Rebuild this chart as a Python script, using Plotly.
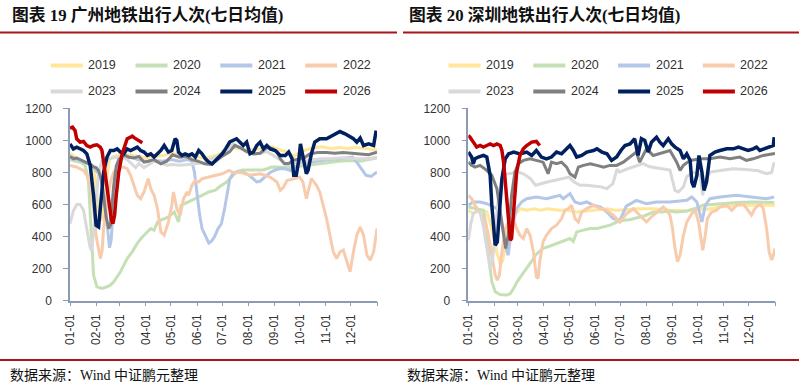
import plotly.graph_objects as go

W, H = 799, 389

YEARS = ["2019", "2020", "2021", "2022", "2023", "2024", "2025", "2026"]
COLORS = ["#FFE699", "#C5E0B4", "#B4C7E7", "#F8CBAD", "#D9D9D9", "#808080", "#002060", "#C00000"]
WIDTHS = [3, 3, 3, 3, 3, 3, 3.5, 3.5]

MONTH_DAYS = [0, 31, 59, 90, 120, 151, 181, 212, 243, 273, 304, 334, 365]
MONTH_LABELS = ["01-01", "02-01", "03-01", "04-01", "05-01", "06-01", "07-01",
                "08-01", "09-01", "10-01", "11-01", "12-01", ""]

TITLES = ["图表 19 广州地铁出行人次(七日均值)", "图表 20 深圳地铁出行人次(七日均值)"]
SOURCE = "数据来源：Wind 中证鹏元整理"

# ---------------- Guangzhou (day of year, value) ----------------
GZ_2019_D = [0, 5, 10, 15, 20, 25, 29, 32, 35, 38, 41, 44, 47, 52, 60, 70, 80, 90, 100, 110, 120, 130, 140, 150, 160, 170, 180, 190, 200, 210, 220, 230, 240, 250, 260, 266, 272, 280, 290, 300, 310, 320, 330, 340, 350, 360, 365]
GZ_2019_V = [920, 900, 880, 870, 860, 850, 800, 650, 520, 500, 600, 780, 880, 900, 910, 910, 900, 890, 900, 905, 920, 910, 905, 900, 890, 900, 920, 960, 950, 940, 945, 950, 960, 940, 925, 900, 920, 940, 955, 960, 950, 955, 950, 955, 950, 945, 940]

GZ_2020_D = [0, 8, 14, 18, 20, 22, 24, 26, 28, 32, 35, 38, 44, 48, 52, 56, 60, 64, 68, 74, 80, 86, 92, 96, 100, 104, 108, 116, 124, 129, 132, 141, 149, 157, 165, 173, 178, 185, 192, 198, 205, 218, 230, 240, 250, 262, 275, 290, 305, 320, 335, 345, 355, 365]
GZ_2020_V = [880, 870, 860, 840, 800, 740, 560, 350, 160, 87, 80, 77, 87, 97, 118, 150, 180, 222, 263, 305, 357, 398, 429, 450, 440, 491, 502, 520, 553, 491, 595, 616, 636, 657, 678, 690, 712, 735, 770, 805, 815, 813, 815, 834, 834, 830, 840, 850, 860, 870, 875, 870, 880, 890]

GZ_2021_D = [0, 6, 12, 18, 24, 30, 34, 38, 41, 44, 47, 49, 51, 53, 56, 60, 66, 74, 80, 90, 100, 110, 120, 130, 140, 145, 148, 151, 154, 157, 162, 165, 168, 172, 176, 180, 184, 187, 190, 194, 200, 206, 212, 218, 222, 226, 232, 238, 244, 250, 256, 262, 268, 275, 285, 296, 308, 320, 332, 336, 340, 345, 352, 358, 365]
GZ_2021_V = [900, 885, 870, 860, 850, 820, 790, 740, 640, 470, 330, 380, 520, 700, 840, 880, 900, 895, 880, 870, 875, 870, 880, 870, 880, 870, 800, 657, 540, 450, 390, 360, 370, 400, 450, 480, 580, 680, 760, 795, 803, 800, 785, 760, 741, 745, 770, 800, 815, 824, 823, 812, 835, 865, 865, 870, 880, 886, 896, 895, 870, 830, 782, 775, 803]

GZ_2022_D = [0, 8, 16, 20, 24, 28, 31, 34, 36, 38, 40, 44, 48, 52, 58, 64, 68, 72, 76, 80, 84, 88, 93, 96, 100, 104, 108, 112, 117, 121, 123, 127, 131, 135, 139, 141, 145, 149, 153, 157, 165, 173, 181, 189, 196, 202, 214, 226, 238, 246, 250, 254, 258, 266, 273, 277, 281, 283, 287, 293, 297, 301, 305, 309, 313, 317, 321, 325, 329, 333, 337, 341, 345, 349, 353, 357, 361, 365]
GZ_2022_V = [844, 833, 813, 782, 720, 574, 408, 305, 263, 305, 450, 616, 740, 802, 833, 833, 823, 782, 720, 657, 636, 678, 761, 699, 657, 574, 429, 408, 491, 595, 678, 574, 533, 636, 678, 657, 720, 750, 740, 761, 771, 782, 792, 813, 795, 802, 782, 792, 771, 740, 688, 709, 750, 761, 771, 740, 636, 678, 761, 720, 678, 595, 512, 408, 305, 263, 305, 315, 243, 180, 305, 408, 460, 408, 284, 253, 305, 450]

GZ_2023_D = [0, 4, 8, 12, 16, 20, 24, 26, 28, 31, 34, 38, 44, 50, 56, 62, 68, 74, 78, 82, 88, 94, 100, 108, 115, 122, 130, 140, 150, 160, 170, 178, 186, 194, 200, 210, 218, 226, 234, 244, 250, 256, 262, 268, 274, 280, 290, 300, 310, 320, 330, 340, 350, 360, 365]
GZ_2023_V = [480, 560, 600, 600, 565, 450, 330, 310, 420, 620, 800, 870, 880, 890, 895, 900, 880, 850, 830, 855, 830, 850, 870, 860, 845, 850, 845, 850, 855, 860, 890, 906, 940, 975, 960, 930, 920, 920, 930, 900, 880, 845, 850, 860, 870, 870, 880, 885, 885, 890, 890, 885, 885, 890, 895]

GZ_2024_D = [0, 4, 8, 12, 16, 20, 24, 28, 31, 34, 37, 40, 43, 46, 48, 50, 52, 55, 58, 62, 66, 70, 76, 82, 88, 93, 100, 108, 115, 122, 130, 138, 145, 152, 160, 168, 175, 182, 190, 196, 202, 210, 218, 226, 234, 240, 246, 250, 255, 260, 265, 270, 278, 285, 295, 305, 315, 325, 335, 345, 355, 365]
GZ_2024_V = [900, 885, 890, 880, 875, 864, 850, 835, 830, 810, 760, 650, 520, 450, 470, 600, 720, 840, 880, 900, 905, 895, 890, 900, 864, 870, 880, 854, 870, 910, 895, 900, 880, 870, 854, 850, 880, 905, 930, 969, 955, 930, 915, 920, 955, 950, 930, 886, 855, 855, 875, 880, 890, 915, 925, 925, 920, 925, 920, 915, 910, 927]

GZ_2025_D = [0, 4, 8, 12, 16, 20, 24, 28, 31, 34, 36, 40, 44, 48, 52, 56, 60, 64, 68, 72, 76, 80, 84, 88, 92, 96, 100, 104, 108, 112, 117, 121, 125, 127, 129, 133, 137, 141, 145, 149, 153, 157, 161, 165, 169, 173, 177, 181, 185, 190, 198, 202, 206, 210, 214, 218, 222, 226, 230, 234, 238, 244, 250, 256, 260, 264, 266, 269, 272, 274, 277, 281, 283, 287, 291, 297, 305, 313, 321, 327, 333, 337, 341, 345, 349, 355, 361, 363, 364]
GZ_2025_V = [978, 947, 958, 947, 937, 916, 844, 657, 470, 460, 595, 802, 896, 937, 937, 947, 927, 916, 947, 937, 947, 958, 937, 927, 906, 916, 896, 916, 937, 968, 927, 937, 1010, 999, 927, 906, 916, 906, 916, 896, 937, 916, 885, 864, 854, 875, 896, 916, 947, 990, 1010, 989, 968, 989, 916, 927, 968, 989, 947, 968, 947, 937, 906, 906, 927, 885, 782, 782, 875, 978, 885, 792, 813, 916, 989, 1010, 1010, 1030, 1055, 1041, 1020, 1010, 989, 1014, 968, 978, 968, 1051, 1061]

GZ_2026_D = [0, 3, 6, 8, 12, 16, 20, 24, 28, 32, 36, 38, 40, 43, 46, 49, 51, 53, 55, 58, 62, 65, 68, 72, 74, 77, 80, 84, 86]
GZ_2026_V = [1076, 1082, 1061, 1010, 989, 993, 968, 958, 968, 972, 958, 937, 864, 740, 616, 512, 481, 533, 657, 802, 916, 968, 1010, 1020, 1026, 1014, 1005, 993, 985]

# ---------------- Shenzhen (day of year, value) ----------------
SZ_2019_D = [0, 6, 14, 22, 26, 30, 34, 38, 41, 44, 48, 55, 62, 70, 78, 86, 94, 108, 118, 130, 150, 165, 175, 180, 200, 220, 240, 260, 276, 284, 300, 320, 345, 365]
SZ_2019_V = [564, 543, 564, 555, 491, 400, 300, 230, 250, 350, 480, 533, 574, 564, 574, 564, 574, 564, 564, 553, 564, 574, 564, 564, 574, 574, 564, 560, 574, 570, 585, 595, 595, 595]

SZ_2020_D = [0, 10, 18, 22, 25, 28, 32, 38, 46, 50, 54, 58, 64, 70, 75, 81, 89, 97, 105, 113, 121, 125, 129, 137, 145, 153, 161, 169, 177, 185, 193, 200, 210, 220, 232, 238, 248, 260, 270, 279, 290, 300, 320, 340, 364]
SZ_2020_V = [585, 575, 564, 450, 243, 118, 56, 39, 35, 45, 77, 118, 160, 201, 243, 290, 326, 340, 357, 370, 388, 370, 429, 440, 450, 450, 460, 471, 491, 502, 507, 515, 530, 553, 553, 560, 553, 560, 575, 595, 600, 605, 612, 616, 612]

SZ_2021_D = [0, 6, 14, 22, 30, 34, 38, 42, 46, 47.5, 49.5, 53.5, 57.5, 63.5, 69.5, 81, 93, 101, 109, 113, 121, 127, 133, 141, 149, 157, 165, 172.5, 180.5, 188, 200, 212, 224, 240, 260, 266, 272, 278, 282, 287.5, 299.5, 319, 339, 355, 364]
SZ_2021_V = [595, 616, 616, 605, 585, 574, 533, 408, 305, 284, 367, 491, 574, 616, 636, 647, 636, 647, 657, 636, 668, 616, 605, 616, 595, 585, 553, 512, 502, 590, 626, 605, 616, 616, 626, 647, 616, 491, 595, 636, 647, 657, 647, 636, 647]

SZ_2022_D = [0, 4, 8, 12, 16, 20, 24, 28, 32, 34.5, 37, 40, 44, 48, 53.5, 57.5, 61.5, 65.5, 69.5, 73.5, 77.5, 81, 83, 85, 89, 93, 99, 105, 111, 115, 119, 123, 127, 131, 135, 141, 149, 157, 165, 172.5, 176.5, 180.5, 188.5, 196.5, 204, 212, 220, 228, 232, 236, 240, 243, 246, 249, 252, 256, 260, 266, 270, 274, 276.5, 279, 282, 284.5, 289.5, 295.5, 299.5, 307.5, 313.5, 319.5, 327, 333, 337, 341, 347, 351, 355, 358, 361, 363, 365]
SZ_2022_V = [657, 636, 595, 564, 533, 491, 408, 284, 160, 128, 160, 305, 450, 491, 512, 450, 408, 388, 450, 408, 305, 149, 139, 243, 367, 408, 450, 471, 512, 564, 574, 595, 512, 491, 553, 574, 595, 574, 564, 533, 512, 491, 543, 574, 533, 491, 533, 564, 585, 564, 533, 450, 325, 243, 284, 408, 491, 543, 564, 491, 388, 315, 408, 512, 553, 564, 585, 595, 564, 595, 605, 564, 533, 574, 605, 574, 450, 305, 253, 284, 325]

SZ_2023_D = [0, 3, 6, 10, 14, 18, 22, 26, 29, 32, 36, 40, 45, 52, 58, 66, 74, 80, 86, 94, 102, 110, 120, 126, 133, 141, 150, 158, 165, 172, 177, 180, 188, 200, 208, 216, 228, 240, 243, 246, 250, 256, 260, 268, 276, 279, 282, 288, 300, 315, 330, 345, 355, 361, 364]
SZ_2023_V = [377, 480, 545, 560, 550, 460, 330, 200, 260, 450, 650, 760, 790, 795, 805, 790, 761, 720, 730, 740, 750, 760, 771, 740, 720, 720, 715, 710, 699, 730, 820, 802, 820, 840, 855, 835, 825, 815, 750, 688, 678, 710, 775, 802, 780, 657, 760, 802, 812, 823, 818, 810, 792, 800, 864]

SZ_2024_D = [0, 4, 8, 14, 22, 28, 34, 38, 42, 44.5, 47.5, 51.5, 55.5, 59.5, 65.5, 73.5, 81, 89, 95, 99, 105, 111, 117, 121, 127, 131, 137, 145, 153, 161, 168.5, 176.5, 184.5, 192.5, 200, 204, 212, 220, 232, 240, 248, 252, 256, 264, 276, 287.5, 299.5, 311.5, 323, 331, 339, 351, 363, 365]
SZ_2024_V = [864, 844, 833, 844, 813, 782, 699, 553, 388, 325, 408, 657, 802, 854, 875, 885, 875, 864, 792, 864, 854, 864, 833, 792, 771, 833, 844, 854, 844, 833, 844, 844, 864, 896, 927, 864, 947, 906, 927, 937, 864, 813, 844, 875, 885, 885, 896, 885, 896, 875, 885, 906, 916, 920]

SZ_2025_D = [0, 4, 6, 8, 12, 18, 22, 26, 28, 30, 32, 34.5, 37, 40, 44, 48, 54, 61.5, 69.5, 75.5, 81, 87, 93, 99, 105, 111, 117, 121, 125, 129, 135, 141, 149, 153, 159, 165, 170.5, 176.5, 182, 186.5, 192.5, 198, 202, 206, 210, 214, 218, 224, 228, 232, 238, 242, 246, 252, 256, 260, 264, 266, 268.5, 272, 274.5, 278, 280.5, 283.5, 287.5, 293.5, 299.5, 307.5, 315.5, 321.5, 327.5, 333, 339, 343, 347, 353, 359, 363, 364]
SZ_2025_V = [927, 896, 854, 885, 896, 906, 896, 782, 595, 450, 346, 367, 553, 761, 885, 916, 927, 916, 927, 906, 937, 896, 885, 896, 927, 916, 947, 968, 937, 896, 906, 927, 937, 947, 927, 916, 875, 896, 940, 968, 978, 1010, 906, 1010, 999, 927, 989, 1020, 989, 968, 1010, 978, 958, 937, 885, 916, 875, 740, 709, 782, 906, 802, 688, 740, 906, 927, 937, 947, 947, 958, 947, 937, 947, 958, 937, 947, 958, 968, 1020]

SZ_2026_D = [0, 2, 6, 10, 14, 18, 22, 26, 30, 34, 38, 40, 42, 44, 46, 48, 50, 51.5, 53.5, 55.5, 57.5, 61.5, 65.5, 69.5, 75.5, 81, 85]
SZ_2026_V = [1030, 1020, 989, 958, 968, 958, 968, 978, 968, 978, 968, 937, 864, 740, 595, 450, 377, 388, 512, 678, 802, 906, 947, 968, 989, 993, 968]

GZ_SERIES = [(GZ_2019_D, GZ_2019_V), (GZ_2020_D, GZ_2020_V), (GZ_2021_D, GZ_2021_V),
             (GZ_2022_D, GZ_2022_V), (GZ_2023_D, GZ_2023_V), (GZ_2024_D, GZ_2024_V),
             (GZ_2025_D, GZ_2025_V), (GZ_2026_D, GZ_2026_V)]
SZ_SERIES = [(SZ_2019_D, SZ_2019_V), (SZ_2020_D, SZ_2020_V), (SZ_2021_D, SZ_2021_V),
             (SZ_2022_D, SZ_2022_V), (SZ_2023_D, SZ_2023_V), (SZ_2024_D, SZ_2024_V),
             (SZ_2025_D, SZ_2025_V), (SZ_2026_D, SZ_2026_V)]

AXIS_COLOR = "#8C9BB5"
TEXT_COLOR = "#333333"
RULE_COLOR = "#A8161C"
SANS = "Liberation Sans, Arial, sans-serif"
CJK = "Liberation Serif, Times New Roman, Noto Sans CJK SC, serif"


def fx(p):
    return p / W


def fy(p):
    return 1 - p / H


fig = go.Figure()

for k, series in enumerate([GZ_SERIES, SZ_SERIES]):
    xa = "x" if k == 0 else "x2"
    ya = "y" if k == 0 else "y2"
    for i, (d, v) in enumerate(series):
        fig.add_trace(go.Scatter(
            x=d, y=v, mode="lines", xaxis=xa, yaxis=ya,
            line=dict(color=COLORS[i], width=WIDTHS[i]),
            name=YEARS[i], showlegend=False, hoverinfo="skip"))

PLOT_LEFT = [70, 468.3]
PLOT_RIGHT = [377, 775]
Y_BOTTOM, Y_TOP = 300.7, 108.3

axis_common = dict(showgrid=False, zeroline=False, showline=True, linecolor=AXIS_COLOR,
                   linewidth=1.5, ticks="outside", tickcolor=AXIS_COLOR, tickwidth=1.2,
                   automargin=False,
                   tickfont=dict(family=SANS, size=12, color=TEXT_COLOR))

layout_axes = {}
for k in range(2):
    sfx = "" if k == 0 else "2"
    layout_axes["xaxis" + sfx] = dict(
        axis_common, domain=[fx(PLOT_LEFT[k]), fx(PLOT_RIGHT[k])], range=[0, 365],
        tickmode="array", tickvals=MONTH_DAYS, ticktext=MONTH_LABELS, tickangle=-90,
        ticklen=4, ticklabelstandoff=3, anchor="y" + sfx)
    layout_axes["yaxis" + sfx] = dict(
        axis_common, domain=[fy(Y_BOTTOM), fy(Y_TOP)], range=[0, 1200],
        tickmode="linear", tick0=0, dtick=200, ticklen=5, ticklabelstandoff=9,
        anchor="x" + sfx)

annotations = []
shapes = []

TITLE_X = [10, 407]
RULE_SPANS = [(0, 397), (403, 799)]
for k in range(2):
    annotations.append(dict(text="<b>" + TITLES[k] + "</b>", x=fx(TITLE_X[k]), y=fy(15),
                            xref="paper", yref="paper", xanchor="left", yanchor="middle",
                            showarrow=False, font=dict(family=CJK, size=16.8, color="#111111")))
    annotations.append(dict(text=SOURCE, x=fx(TITLE_X[k] - 2), y=fy(375),
                            xref="paper", yref="paper", xanchor="left", yanchor="middle",
                            showarrow=False, font=dict(family=CJK, size=14, color="#111111")))
    shapes.append(dict(type="line", xref="paper", yref="paper",
                       x0=fx(RULE_SPANS[k][0]), x1=fx(RULE_SPANS[k][1]), y0=fy(32.5), y1=fy(32.5),
                       line=dict(color=RULE_COLOR, width=2)))

shapes.append(dict(type="line", xref="paper", yref="paper", x0=0, x1=1, y0=fy(360), y1=fy(360),
                   line=dict(color=RULE_COLOR, width=2)))

LEG_X0 = [50.7, 448.5]
LEG_ROW_Y = [65.5, 91.5]
for k in range(2):
    for i, yr in enumerate(YEARS):
        col, row = i % 4, i // 4
        x0 = LEG_X0[k] + col * 84.8
        yy = LEG_ROW_Y[row]
        shapes.append(dict(type="line", xref="paper", yref="paper",
                           x0=fx(x0), x1=fx(x0 + 32), y0=fy(yy), y1=fy(yy),
                           line=dict(color=COLORS[i], width=4)))
        annotations.append(dict(text=yr, x=fx(x0 + 35.5), y=fy(yy), xref="paper", yref="paper",
                                xanchor="left", yanchor="middle", showarrow=False,
                                font=dict(family=SANS, size=12.5, color=TEXT_COLOR)))

fig.update_layout(
    template="none",
    width=W, height=H, autosize=False,
    margin=dict(l=0, r=0, t=0, b=0, pad=0, autoexpand=False),
    paper_bgcolor="white", plot_bgcolor="white",
    showlegend=False,
    annotations=annotations, shapes=shapes,
    **layout_axes)

fig.write_html("out.html", config={"displayModeBar": False},
               post_script="document.body.style.margin='0';document.body.style.overflow='hidden';")
